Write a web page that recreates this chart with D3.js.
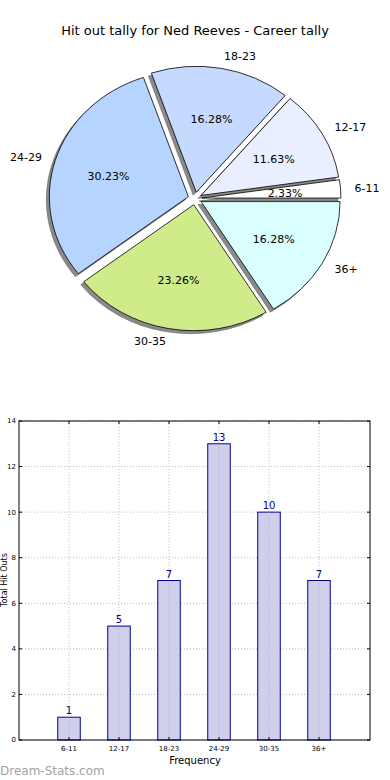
<!DOCTYPE html>
<html><head><meta charset="utf-8">
<script src="https://cdn.jsdelivr.net/npm/d3@7"></script>
<style>body{margin:0;background:#fff}svg{display:block;font-family:"DejaVu Sans",sans-serif}</style>
</head><body><svg id="c" width="390" height="780"></svg>
<script>
const categories = ["6-11","12-17","18-23","24-29","30-35","36+"];
const counts = [1,5,7,13,10,7];
const sliceColors = ["#ffffff","#e9efff","#c6d9ff","#b5d4ff","#d0eb8a","#d9ffff"];
const yTicks = [0,2,4,6,8,10,12,14];
const title = "Hit out tally for Ned Reeves - Career tally";

const svg = d3.select("#c");
svg.append("text").attr("x",195).attr("y",35).attr("text-anchor","middle")
  .attr("font-size",13).attr("fill","#000").text(title);

// ---- Pie ----
const cx = 195, cy = 198.5, r = 126, sx = 139/126, explode = 0.05*r;
const total = d3.sum(counts);
const pie = d3.pie().sort(null).startAngle(Math.PI/2).endAngle(Math.PI/2 - 2*Math.PI);
const arcs = pie(counts);
const arc = d3.arc().innerRadius(0).outerRadius(r);
const pg = svg.append("g");
function off(a, d){ const m=(a.startAngle+a.endAngle)/2; return [Math.sin(m)*d, -Math.cos(m)*d]; }
arcs.forEach(a=>{
  const [ox,oy]=off(a,explode);
  pg.append("path").attr("d",arc(a))
    .attr("transform",`translate(${cx-3},${cy+3}) scale(${sx},1) translate(${ox},${oy})`)
    .attr("fill","#8a8a8a").attr("stroke","#6a6a6a").attr("stroke-width",0.6);
});
arcs.forEach((a,i)=>{
  const [ox,oy]=off(a,explode);
  pg.append("path").attr("d",arc(a))
    .attr("transform",`translate(${cx},${cy}) scale(${sx},1) translate(${ox},${oy})`)
    .attr("fill",sliceColors[i]).attr("stroke","#000").attr("stroke-width",0.8)
    .attr("vector-effect","non-scaling-stroke");
});
arcs.forEach((a,i)=>{
  const m=(a.startAngle+a.endAngle)/2;
  const dl = 1.1*r + explode, dp = 0.6*r + explode;
  const lx = cx + Math.sin(m)*dl*sx, ly = cy - Math.cos(m)*dl;
  svg.append("text").attr("x",lx).attr("y",ly).attr("dy","0.35em")
    .attr("text-anchor", Math.sin(m)>0 ? "start":"end").attr("font-size",11).text(categories[i]);
  const px = cx + Math.sin(m)*dp*sx, py = cy - Math.cos(m)*dp;
  svg.append("text").attr("x",px).attr("y",py+1).attr("dy","0.35em")
    .attr("text-anchor","middle").attr("font-size",11)
    .text((counts[i]/total*100).toFixed(2)+"%");
});

// ---- Bars ----
const L=19, R=370, T=421, B=740;
const x = d3.scaleLinear().domain([-1, 6.02]).range([L,R]);
const y = d3.scaleLinear().domain([0,14]).range([B,T]);
const bw = x(0.45)-x(0);
const bg = svg.append("g");
yTicks.forEach(t=>{
  bg.append("line").attr("x1",L).attr("x2",R).attr("y1",y(t)).attr("y2",y(t))
    .attr("stroke","#bbb").attr("stroke-width",1).attr("stroke-dasharray","1,2");
});
categories.forEach((c,i)=>{
  bg.append("line").attr("x1",x(i)).attr("x2",x(i)).attr("y1",T).attr("y2",B)
    .attr("stroke","#bbb").attr("stroke-width",1).attr("stroke-dasharray","1,2");
});
counts.forEach((v,i)=>{
  bg.append("rect").attr("x",x(i)-bw/2).attr("y",y(v)).attr("width",bw).attr("height",y(0)-y(v))
    .attr("fill","#ccccea").attr("stroke","#00008b").attr("stroke-width",1).attr("fill-opacity",0.95);
  bg.append("text").attr("x",x(i)).attr("y",y(v)-3).attr("text-anchor","middle")
    .attr("font-size",10).attr("fill","#00008b").text(v);
});
categories.forEach((c,i)=>{
  bg.append("line").attr("x1",x(i)).attr("x2",x(i)).attr("y1",y(counts[i])).attr("y2",B)
    .attr("stroke","#aaa").attr("stroke-width",1).attr("stroke-dasharray","1,2").attr("opacity",0.6);
});
bg.append("rect").attr("x",L).attr("y",T).attr("width",R-L).attr("height",B-T)
  .attr("fill","none").attr("stroke","#000").attr("stroke-width",1);
yTicks.forEach(t=>{
  bg.append("line").attr("x1",L).attr("x2",L+3).attr("y1",y(t)).attr("y2",y(t)).attr("stroke","#000");
  bg.append("line").attr("x1",R-3).attr("x2",R).attr("y1",y(t)).attr("y2",y(t)).attr("stroke","#000");
  bg.append("text").attr("x",L-3).attr("y",y(t)).attr("dy","0.35em").attr("text-anchor","end")
    .attr("font-size",7).text(t);
});
categories.forEach((c,i)=>{
  bg.append("line").attr("x1",x(i)).attr("x2",x(i)).attr("y1",B).attr("y2",B-3).attr("stroke","#000");
  bg.append("line").attr("x1",x(i)).attr("x2",x(i)).attr("y1",T).attr("y2",T+3).attr("stroke","#000");
  bg.append("text").attr("x",x(i)).attr("y",B+11).attr("text-anchor","middle")
    .attr("font-size",7).text(c);
});
svg.append("text").attr("x",195).attr("y",764).attr("text-anchor","middle").attr("font-size",10).text("Frequency");
svg.append("text").attr("transform","translate(6.5,580) rotate(-90)").attr("text-anchor","middle")
  .attr("font-size",8).text("Total Hit Outs");
svg.append("text").attr("x",0).attr("y",775).attr("font-size",12)
  .attr("fill","#a3a3a3").text("Dream-Stats.com");
</script></body></html>
